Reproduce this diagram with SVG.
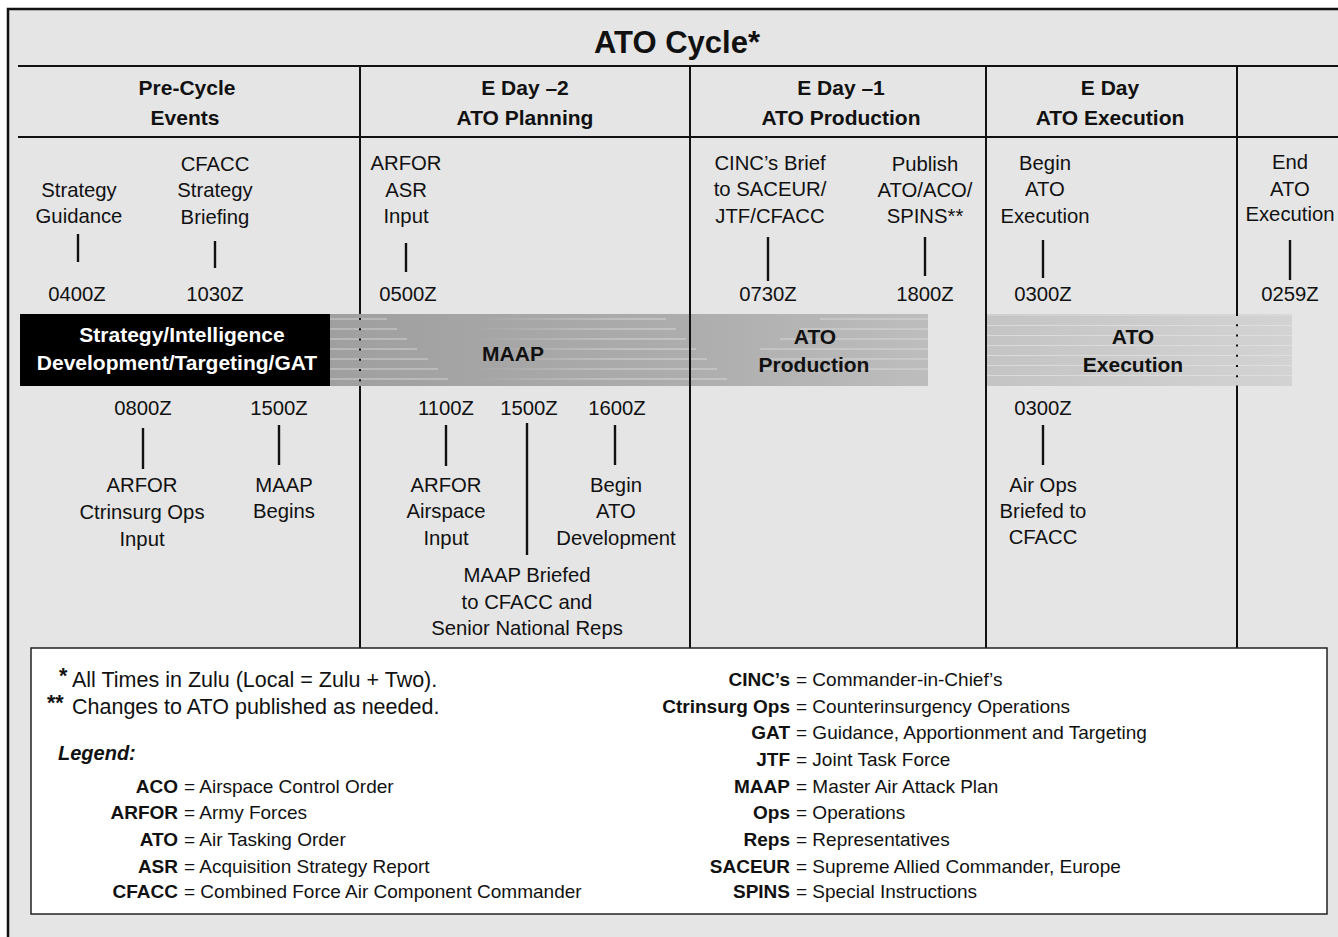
<svg xmlns="http://www.w3.org/2000/svg" width="1338" height="937" viewBox="0 0 1338 937">
  <style>
    text { font-family: "Liberation Sans", Arial, sans-serif; fill: #111; }
    .title { font-size: 31px; font-weight: bold; text-anchor: middle; }
    .hd { font-size: 21px; font-weight: bold; text-anchor: middle; }
    .ev { font-size: 20.3px; text-anchor: middle; }
    .band { font-size: 21px; font-weight: bold; text-anchor: middle; }
    .bandw { font-size: 21px; font-weight: bold; text-anchor: middle; fill: #fff; }
    .fn { font-size: 21.5px; }
    .fnb { font-size: 21.5px; font-weight: bold; }
    .lg { font-size: 19px; }
    .ab { font-size: 19px; font-weight: bold; text-anchor: end; }
    .lgh { font-size: 20px; font-weight: bold; font-style: italic; }
    .rule { stroke: #111; stroke-width: 2.2; fill: none; }
    .div { stroke: #111; stroke-width: 2; fill: none; }
    .tick { stroke: #111; stroke-width: 2.4; fill: none; }
    .streak { stroke: #e2e2e2; stroke-width: 1.2; opacity: 0.75; }
    .dot { stroke: #111; stroke-width: 2; stroke-dasharray: 2 8.2; }
  </style>
  <defs>
    <linearGradient id="gPlan" gradientUnits="userSpaceOnUse" x1="330" y1="0" x2="928" y2="0">
      <stop offset="0" stop-color="#9f9f9f"/>
      <stop offset="0.6" stop-color="#adadad"/>
      <stop offset="1" stop-color="#bdbdbd"/>
    </linearGradient>
    <linearGradient id="gExec" gradientUnits="userSpaceOnUse" x1="986" y1="0" x2="1292" y2="0">
      <stop offset="0" stop-color="#c4c4c4"/>
      <stop offset="1" stop-color="#d3d3d3"/>
    </linearGradient>
    <linearGradient id="gFade" gradientUnits="userSpaceOnUse" x1="470" y1="0" x2="620" y2="0">
      <stop offset="0" stop-color="#e4e4e4" stop-opacity="0"/>
      <stop offset="1" stop-color="#e4e4e4" stop-opacity="1"/>
    </linearGradient>
  </defs>

  <!-- page and outer frame -->
  <rect x="0" y="0" width="1338" height="937" fill="#fff"/>
  <rect x="8" y="9" width="1340" height="940" fill="#e5e5e5" stroke="#111" stroke-width="2.5"/>

  <!-- title and header rules -->
  <g id="title">
    <text class="title" x="677" y="53">ATO Cycle*</text>
  </g>
  <line class="rule" x1="18" y1="66" x2="1338" y2="66"/>
  <line class="rule" x1="18" y1="137" x2="1338" y2="137"/>

  <!-- column dividers (two of them run under the bands) -->
  <g id="dividers">
    <line class="div" x1="360" y1="66" x2="360" y2="648"/>
    <line class="div" x1="1237" y1="66" x2="1237" y2="648"/>
  </g>

  <!-- column headings -->
  <g id="col-precycle">
    <text class="hd" x="187" y="95">Pre-Cycle</text>
    <text class="hd" x="185" y="125">Events</text>
  </g>
  <g id="col-eday-2">
    <text class="hd" x="525" y="95">E Day –2</text>
    <text class="hd" x="525" y="125">ATO Planning</text>
  </g>
  <g id="col-eday-1">
    <text class="hd" x="841" y="95">E Day –1</text>
    <text class="hd" x="841" y="125">ATO Production</text>
  </g>
  <g id="col-eday">
    <text class="hd" x="1110" y="95">E Day</text>
    <text class="hd" x="1110" y="125">ATO Execution</text>
  </g>

  <!-- phase bands -->
  <g id="band-strategy">
    <rect x="20" y="314" width="310" height="72" fill="#000"/>
    <text class="bandw" x="182" y="342">Strategy/Intelligence</text>
    <text class="bandw" x="177" y="370">Development/Targeting/GAT</text>
  </g>
  <g id="band-maap-production">
    <rect x="330" y="314" width="598" height="72" fill="url(#gPlan)"/>
    <g class="streak">
      <line x1="330" y1="319" x2="387" y2="319"/>
      <line x1="330" y1="329" x2="397" y2="329"/>
      <line x1="330" y1="339" x2="407" y2="339"/>
      <line x1="330" y1="349" x2="417" y2="349"/>
      <line x1="330" y1="359" x2="428" y2="359"/>
      <line x1="330" y1="369" x2="438" y2="369"/>
      <line x1="330" y1="379" x2="448" y2="379"/>
    </g>
    <g class="streak" style="stroke:url(#gFade)">
      <line x1="470" y1="319" x2="666" y2="319"/>
      <line x1="470" y1="329" x2="676" y2="329"/>
      <line x1="470" y1="339" x2="686" y2="339"/>
      <line x1="470" y1="349" x2="696" y2="349"/>
      <line x1="470" y1="359" x2="707" y2="359"/>
      <line x1="470" y1="369" x2="717" y2="369"/>
      <line x1="470" y1="379" x2="727" y2="379"/>
    </g>
    <g class="streak" opacity="0.5">
      <line x1="820" y1="319" x2="928" y2="319"/>
      <line x1="800" y1="329" x2="928" y2="329"/>
      <line x1="780" y1="339" x2="928" y2="339"/>
      <line x1="760" y1="349" x2="928" y2="349"/>
      <line x1="760" y1="359" x2="928" y2="359"/>
      <line x1="760" y1="369" x2="928" y2="369"/>
    </g>
    <line class="dot" x1="360" y1="318" x2="360" y2="386"/>
    <text class="band" x="513" y="361">MAAP</text>
    <text class="band" x="815" y="344">ATO</text>
    <text class="band" x="814" y="372">Production</text>
  </g>
  <g id="band-execution">
    <rect x="986" y="314" width="306" height="72" fill="url(#gExec)"/>
    <g class="streak">
      <line x1="987" y1="315" x2="1292" y2="315"/>
      <line x1="987" y1="325.5" x2="1292" y2="325.5"/>
      <line x1="987" y1="335.5" x2="1292" y2="335.5"/>
      <line x1="987" y1="345.5" x2="1292" y2="345.5"/>
      <line x1="987" y1="355.5" x2="1292" y2="355.5"/>
      <line x1="987" y1="365.5" x2="1292" y2="365.5"/>
      <line x1="987" y1="375.5" x2="1292" y2="375.5"/>
    </g>
    <line class="dot" x1="1237" y1="314" x2="1237" y2="388"/>
    <text class="band" x="1133" y="344">ATO</text>
    <text class="band" x="1133" y="372">Execution</text>
  </g>

  <!-- dividers drawn over the bands -->
  <g id="dividers-front">
    <line class="div" x1="690" y1="66" x2="690" y2="648"/>
    <line class="div" x1="986" y1="66" x2="986" y2="648"/>
  </g>

  <!-- events above the bands -->
  <g id="ev-strategy-guidance">
    <text class="ev" x="79" y="197">Strategy</text>
    <text class="ev" x="79" y="223">Guidance</text>
    <text class="ev" x="77" y="301">0400Z</text>
  </g>
  <g id="ev-cfacc-briefing">
    <text class="ev" x="215" y="171">CFACC</text>
    <text class="ev" x="215" y="197">Strategy</text>
    <text class="ev" x="215" y="224">Briefing</text>
    <text class="ev" x="215" y="301">1030Z</text>
  </g>
  <g id="ev-arfor-asr">
    <text class="ev" x="406" y="170">ARFOR</text>
    <text class="ev" x="406" y="197">ASR</text>
    <text class="ev" x="406" y="223">Input</text>
    <text class="ev" x="408" y="301">0500Z</text>
  </g>
  <g id="ev-cinc-brief">
    <text class="ev" x="770" y="170">CINC’s Brief</text>
    <text class="ev" x="770" y="196">to SACEUR/</text>
    <text class="ev" x="770" y="223">JTF/CFACC</text>
    <text class="ev" x="768" y="301">0730Z</text>
  </g>
  <g id="ev-publish">
    <text class="ev" x="925" y="171">Publish</text>
    <text class="ev" x="925" y="197">ATO/ACO/</text>
    <text class="ev" x="925" y="223">SPINS**</text>
    <text class="ev" x="925" y="301">1800Z</text>
  </g>
  <g id="ev-begin-exec">
    <text class="ev" x="1045" y="170">Begin</text>
    <text class="ev" x="1045" y="196">ATO</text>
    <text class="ev" x="1045" y="223">Execution</text>
    <text class="ev" x="1043" y="301">0300Z</text>
  </g>
  <g id="ev-end-exec">
    <text class="ev" x="1290" y="169">End</text>
    <text class="ev" x="1290" y="196">ATO</text>
    <text class="ev" x="1290" y="221">Execution</text>
    <text class="ev" x="1290" y="301">0259Z</text>
  </g>

  <!-- events below the bands -->
  <g id="ev-arfor-ctrinsurg">
    <text class="ev" x="143" y="415">0800Z</text>
    <text class="ev" x="142" y="492">ARFOR</text>
    <text class="ev" x="142" y="519">Ctrinsurg Ops</text>
    <text class="ev" x="142" y="546">Input</text>
  </g>
  <g id="ev-maap-begins">
    <text class="ev" x="279" y="415">1500Z</text>
    <text class="ev" x="284" y="492">MAAP</text>
    <text class="ev" x="284" y="518">Begins</text>
  </g>
  <g id="ev-arfor-airspace">
    <text class="ev" x="446" y="415">1100Z</text>
    <text class="ev" x="446" y="492">ARFOR</text>
    <text class="ev" x="446" y="518">Airspace</text>
    <text class="ev" x="446" y="545">Input</text>
  </g>
  <g id="ev-maap-briefed">
    <text class="ev" x="529" y="415">1500Z</text>
    <text class="ev" x="527" y="582">MAAP Briefed</text>
    <text class="ev" x="527" y="609">to CFACC and</text>
    <text class="ev" x="527" y="635">Senior National Reps</text>
  </g>
  <g id="ev-ato-development">
    <text class="ev" x="617" y="415">1600Z</text>
    <text class="ev" x="616" y="492">Begin</text>
    <text class="ev" x="616" y="518">ATO</text>
    <text class="ev" x="616" y="545">Development</text>
  </g>
  <g id="ev-air-ops-briefed">
    <text class="ev" x="1043" y="415">0300Z</text>
    <text class="ev" x="1043" y="492">Air Ops</text>
    <text class="ev" x="1043" y="518">Briefed to</text>
    <text class="ev" x="1043" y="544">CFACC</text>
  </g>

  <!-- time ticks linking each event label to its time -->
  <g id="connectors" class="tick">
    <line x1="78" y1="234" x2="78" y2="262"/>
    <line x1="215" y1="241" x2="215" y2="268"/>
    <line x1="406" y1="243" x2="406" y2="272"/>
    <line x1="768" y1="237" x2="768" y2="281"/>
    <line x1="925" y1="237" x2="925" y2="276"/>
    <line x1="1043" y1="240" x2="1043" y2="278"/>
    <line x1="1290" y1="240" x2="1290" y2="280"/>
    <line x1="143" y1="428" x2="143" y2="469"/>
    <line x1="279" y1="425" x2="279" y2="465"/>
    <line x1="446" y1="425" x2="446" y2="466"/>
    <line x1="527" y1="423" x2="527" y2="555"/>
    <line x1="615" y1="425" x2="615" y2="465"/>
    <line x1="1043" y1="425" x2="1043" y2="465"/>
  </g>

  <!-- notes and legend -->
  <g id="legend">
    <rect x="31" y="648" width="1296" height="266" fill="#fff" stroke="#222" stroke-width="1.5"/>
    <text class="fnb" x="59" y="683">*</text>
    <text class="fn" x="72" y="687">All Times in Zulu (Local = Zulu + Two).</text>
    <text class="fnb" x="47" y="710">**</text>
    <text class="fn" x="72" y="714">Changes to ATO published as needed.</text>
    <text class="lgh" x="58" y="760">Legend:</text>

    <text class="ab" x="178" y="793">ACO</text><text class="lg" x="184" y="793">= Airspace Control Order</text>
    <text class="ab" x="178" y="819">ARFOR</text><text class="lg" x="184" y="819">= Army Forces</text>
    <text class="ab" x="178" y="846">ATO</text><text class="lg" x="184" y="846">= Air Tasking Order</text>
    <text class="ab" x="178" y="873">ASR</text><text class="lg" x="184" y="873">= Acquisition Strategy Report</text>
    <text class="ab" x="178" y="898">CFACC</text><text class="lg" x="184" y="898">= Combined Force Air Component Commander</text>

    <text class="ab" x="790" y="686">CINC’s</text><text class="lg" x="796" y="686">= Commander-in-Chief’s</text>
    <text class="ab" x="790" y="713">Ctrinsurg Ops</text><text class="lg" x="796" y="713">= Counterinsurgency Operations</text>
    <text class="ab" x="790" y="739">GAT</text><text class="lg" x="796" y="739">= Guidance, Apportionment and Targeting</text>
    <text class="ab" x="790" y="766">JTF</text><text class="lg" x="796" y="766">= Joint Task Force</text>
    <text class="ab" x="790" y="793">MAAP</text><text class="lg" x="796" y="793">= Master Air Attack Plan</text>
    <text class="ab" x="790" y="819">Ops</text><text class="lg" x="796" y="819">= Operations</text>
    <text class="ab" x="790" y="846">Reps</text><text class="lg" x="796" y="846">= Representatives</text>
    <text class="ab" x="790" y="873">SACEUR</text><text class="lg" x="796" y="873">= Supreme Allied Commander, Europe</text>
    <text class="ab" x="790" y="898">SPINS</text><text class="lg" x="796" y="898">= Special Instructions</text>
  </g>
</svg>
